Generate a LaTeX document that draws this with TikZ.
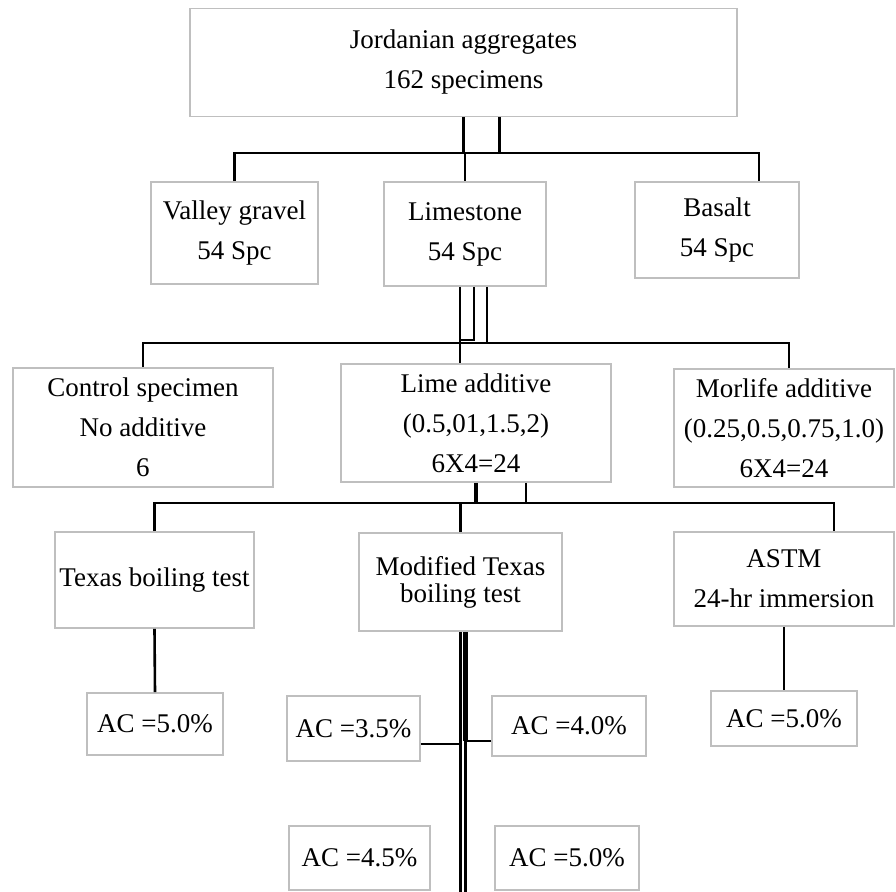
\documentclass[tikz,border=0pt]{standalone}
\usepackage{fontspec}
\setmainfont{Liberation Serif}
\tikzset{
  box/.style    = { draw=gray!50, line width=0.9pt, align=center, inner sep=0pt,
                    font=\fontsize{13.5}{20}\selectfont },
  tight/.style  = { font=\fontsize{13.5}{13.5}\selectfont },
  link/.style   = { line width=1.3pt, black },
  heavy/.style  = { line width=2.4pt, black }
}

\begin{document}
\begin{tikzpicture}[x=0.5pt,y=-0.5pt]
  \useasboundingbox (0,0) rectangle (896,892);

  % Draw all boxes
  \node[box, minimum width=273.5pt, minimum height=54pt] (agg) at (463.5,62.5) {Jordanian aggregates\\162 specimens};

  \node[box, minimum width=83.5pt, minimum height=51pt] (valley)    at (234.5,233) {Valley gravel\\54 Spc};
  \node[box, minimum width=81pt,   minimum height=52pt] (limestone) at (465,234)   {Limestone\\54 Spc};
  \node[box, minimum width=82pt,   minimum height=48pt] (basalt)    at (717,230)   {Basalt\\54 Spc};

  \node[box, minimum width=130pt, minimum height=59.5pt] (control) at (143,427.5) {Control specimen\\No additive\\6};
  \node[box, minimum width=135pt, minimum height=59pt]   (lime)    at (476,423)   {Lime additive\\(0.5,01,1.5,2)\\6X4=24};
  \node[box, minimum width=110pt, minimum height=59pt]   (morlife) at (784,428)   {Morlife additive\\(0.25,0.5,0.75,1.0)\\6X4=24};

  \node[box, minimum width=99.5pt, minimum height=48pt]      (texas)    at (154.5,580) {Texas boiling test};
  \node[box, tight, minimum width=101.5pt, minimum height=49pt] (modified) at (460.5,582) {Modified Texas\\boiling test};
  \node[box, minimum width=110pt, minimum height=47pt]       (astm)     at (784,579)   {ASTM\\24-hr immersion};

  \node[box, minimum width=68pt,   minimum height=31pt]   (acT) at (155,724)     {AC =5.0\%};
  \node[box, minimum width=66.5pt, minimum height=32.5pt] (acA) at (353.5,728.5) {AC =3.5\%};
  \node[box, minimum width=77pt,   minimum height=30pt]   (acB) at (569,726)     {AC =4.0\%};
  \node[box, minimum width=70.5pt, minimum height=32pt]   (acC) at (359.5,858)   {AC =4.5\%};
  \node[box, minimum width=72pt,   minimum height=32pt]   (acD) at (567,858)     {AC =5.0\%};
  \node[box, minimum width=73pt,   minimum height=27.5pt] (acS) at (784,718.5)   {AC =5.0\%};

  % Draw connectors
  \coordinate (bar1) at (0,153);
  \coordinate (bar2) at (0,343);
  \coordinate (bar3) at (0,503);
  \coordinate (foot) at (0,892);

  \draw[link] (agg.south) -- (agg.south |- bar1);
  \draw[link] ([xshift=18pt]agg.south) -- ([xshift=18pt]agg.south |- bar1);
  \draw[link] (valley.north) |- ([xshift=21pt]basalt.north |- bar1) -- ([xshift=21pt]basalt.north);
  \draw[link] (limestone.north |- bar1) -- (limestone.north);

  \draw[link] ([xshift=-2.5pt]limestone.south) -- ([xshift=-2.5pt]limestone.south |- lime.north);
  \draw[link] ([xshift=4.5pt]limestone.south) |- ([xshift=-2.5pt,yshift=1.5pt]limestone.south |- bar2);
  \draw[link] ([xshift=11pt]limestone.south) -- ([xshift=11pt]limestone.south |- bar2);
  \draw[link] (control.north) |- ([xshift=2.5pt]morlife.north |- bar2) -- ([xshift=2.5pt]morlife.north);

  \draw[heavy] (lime.south) -- (lime.south |- bar3);
  \draw[link] ([xshift=25pt]lime.south) -- ([xshift=25pt]lime.south |- bar3);
  \draw[link] (texas.north) |- ([xshift=25pt]astm.north |- bar3) -- ([xshift=25pt]astm.north);
  \draw[link] (modified.north |- bar3) -- (modified.north);

  \draw[link] (texas.south) -- (acT.north);
  \draw[link] (astm.south) -- (acS.north);

  \draw[link] (modified.south) -- (modified.south |- foot);
  \draw[heavy] ([xshift=2.5pt]modified.south) -- ([xshift=2.5pt,yshift=-7.5pt]modified.south |- acB.west);
  \draw[link] ([xshift=2.5pt,yshift=-7.5pt]modified.south |- acB.west) -- ([xshift=2.5pt]modified.south |- foot);
  \draw[link] ([yshift=-7.75pt]acA.east) -| (modified.south);
  \draw[link] ([yshift=-7.5pt]acB.west) -| ([xshift=2.5pt]modified.south);
\end{tikzpicture}
\end{document}
